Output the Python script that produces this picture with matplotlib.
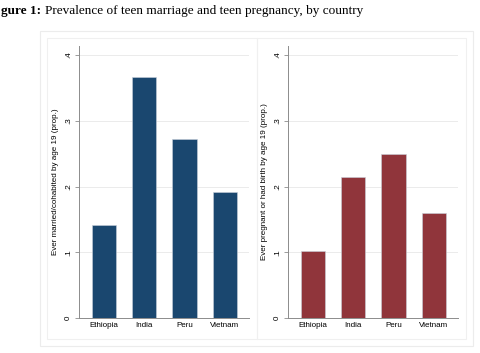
import matplotlib
matplotlib.use("Agg")
import matplotlib.pyplot as plt
from matplotlib.patches import Rectangle

countries = ["Ethiopia", "India", "Peru", "Vietnam"]
married = [0.142, 0.367, 0.272, 0.191]
pregnant = [0.102, 0.214, 0.249, 0.159]
yticks = [0, 0.1, 0.2, 0.3, 0.4]
ytick_labels = ["0", ".1", ".2", ".3", ".4"]

NAVY = "#1a476f"
MAROON = "#90353b"
AXIS = "#8c8c8c"
GRID = "#e8e8e8"
W, H = 480, 353

fig = plt.figure(figsize=(4.8, 3.53), dpi=100)
fig.patch.set_facecolor("white")


def box(x0, y0, x1, y1, color):
    # pixel coords (top-left origin) -> figure fraction
    fig.patches.append(Rectangle((x0 / W, 1 - y1 / H), (x1 - x0) / W, (y1 - y0) / H,
                                 transform=fig.transFigure, fill=False,
                                 edgecolor=color, linewidth=0.8))


box(40, 31, 473, 346, "#ececec")
box(47, 38, 257, 339, "#f0f0f0")
box(257, 38, 466, 339, "#f0f0f0")

fig.text(1 / W, 1 - 14 / H, "gure 1:", fontfamily="Liberation Serif", fontweight="bold", fontsize=9.5)
fig.text(45 / W, 1 - 14 / H, "Prevalence of teen marriage and teen pregnancy, by country",
         fontfamily="Liberation Serif", fontsize=9.5)


def panel(left, values, color, ylabel):
    ax = fig.add_axes([left / W, 1 - 318 / H, 170 / W, 272 / H])
    x = range(len(countries))
    ax.bar(x, values, width=0.6, color=color, edgecolor="#c8d0da", linewidth=0.4, zorder=3)
    ax.set_xlim(-0.62, 3.6)
    ax.set_ylim(0, 0.4137)
    ax.set_yticks(yticks)
    ax.set_yticklabels(ytick_labels, rotation=90, va="center")
    ax.set_xticks(list(x))
    ax.set_xticklabels(countries)
    ax.tick_params(axis="x", length=0, labelsize=5.8, pad=3)
    ax.tick_params(axis="y", length=3, width=0.6, color=AXIS, labelsize=5.8, pad=2)
    for s in ["top", "right"]:
        ax.spines[s].set_visible(False)
    for s in ["left", "bottom"]:
        ax.spines[s].set_color(AXIS)
        ax.spines[s].set_linewidth(0.7)
    ax.yaxis.grid(True, color=GRID, linewidth=0.6, zorder=0)
    ax.set_axisbelow(True)
    ax.set_ylabel(ylabel, fontsize=5.8, labelpad=4)
    return ax


plt.rcParams["font.family"] = ["Liberation Sans", "DejaVu Sans"]
panel(79, married, NAVY, "Ever married/cohabited by age 19 (prop.)")
panel(288, pregnant, MAROON, "Ever pregnant or had birth by age 19 (prop.)")

fig.savefig("out.png", dpi=100)
